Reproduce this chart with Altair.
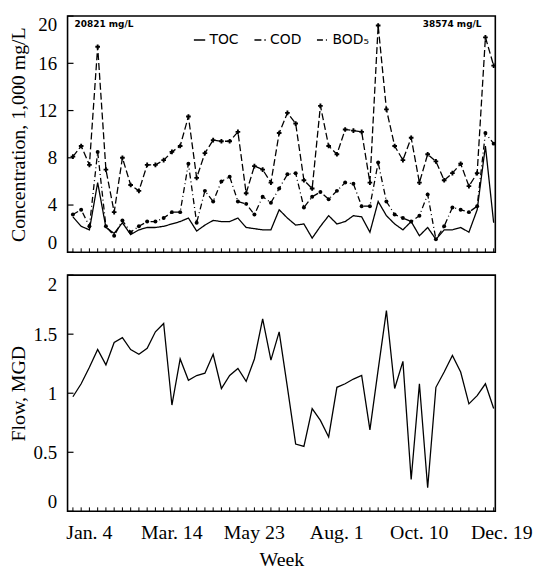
import json
import altair as alt
import pandas as pd

# ---------------- data ----------------
weeks = list(range(1, 53))

toc = [3.0, 2.2, 1.9, 5.9, 2.1, 1.6, 2.5, 1.5, 1.9, 2.1,
       2.1, 2.2, 2.4, 2.6, 2.9, 1.8, 2.3, 2.7, 2.6, 2.6,
       2.9, 2.1, 2.0, 1.9, 1.9, 3.6, 2.9, 2.3, 2.4, 1.2,
       2.2, 3.1, 2.4, 2.6, 3.1, 3.0, 1.7, 4.3, 3.1, 2.4,
       1.9, 2.6, 1.4, 2.1, 1.1, 1.9, 1.9, 2.1, 1.7, 3.6,
       9.0, 2.5]

cod = [8.1, 9.0, 7.4, 17.4, 7.0, 3.4, 8.0, 5.7, 5.2, 7.4,
       7.4, 7.8, 8.5, 9.0, 11.5, 6.3, 8.4, 9.5, 9.4, 9.4,
       10.2, 5.0, 7.3, 7.0, 5.9, 10.1, 11.8, 10.9, 6.1, 5.4,
       12.4, 9.0, 8.3, 10.4, 10.3, 10.2, 5.9, 19.2, 12.1, 9.0,
       7.8, 9.7, 5.9, 8.3, 7.7, 6.1, 6.7, 7.5, 5.6, 6.7,
       18.2, 15.8]

bod5 = [3.2, 3.6, 2.2, 8.5, 2.2, 1.4, 2.7, 1.7, 2.2, 2.6,
        2.6, 2.9, 3.4, 3.4, 7.5, 2.5, 5.2, 4.3, 6.0, 6.4,
        4.3, 4.1, 3.2, 4.7, 4.2, 5.4, 6.6, 6.7, 3.8, 4.7,
        5.1, 4.5, 5.2, 5.9, 5.8, 3.9, 3.9, 7.6, 4.3, 3.2,
        2.9, 2.6, 3.1, 4.9, 1.1, 2.2, 3.8, 3.6, 3.4, 3.9,
        10.1, 9.2]

flow = [0.97, 1.08, 1.22, 1.37, 1.24, 1.43, 1.47, 1.37, 1.33, 1.38,
        1.52, 1.59, 0.90, 1.29, 1.11, 1.15, 1.17, 1.33, 1.04, 1.15,
        1.21, 1.10, 1.29, 1.63, 1.28, 1.52, 1.05, 0.57, 0.55, 0.87,
        0.77, 0.63, 1.05, 1.08, 1.12, 1.15, 0.69, 1.20, 1.70, 1.04,
        1.27, 0.27, 1.08, 0.20, 1.05, 1.18, 1.32, 1.18, 0.91, 0.98,
        1.08, 0.87]

series_names = ["TOC", "COD", "BOD\u2085"]
conc_ticks = [0, 4, 8, 12, 16, 20]
flow_ticks = [0, 0.5, 1, 1.5, 2]
week_tick_values = [1, 11, 21, 31, 41, 51]
week_tick_labels = ["Jan. 4", "Mar. 14", "May 23", "Aug. 1", "Oct. 10", "Dec. 19"]
note_weeks = [1.2, 43.4]
note_values = [19.35, 19.35]
note_texts = ["20821 mg/L", "38574 mg/L"]

# ---------------- tables ----------------
conc_df = pd.DataFrame({
    "week": weeks * 3,
    "value": toc + cod + bod5,
    "series": [series_names[0]] * 52 + [series_names[1]] * 52 + [series_names[2]] * 52,
})
flow_df = pd.DataFrame({"week": weeks, "flow": flow})
wk_df = pd.DataFrame({"week": weeks})
ctick_df = pd.DataFrame({"v": conc_ticks})
ftick_df = pd.DataFrame({"v": flow_ticks})
note_df = pd.DataFrame({"week": note_weeks, "value": note_values, "text": note_texts})

W, H = 431, 238
FONT = "Liberation Serif"
xscale = alt.Scale(domain=[0.35, 52.2], nice=False, zero=False)
cscale = alt.Scale(domain=[0, 20], nice=False)
fscale = alt.Scale(domain=[0, 2], nice=False)

label_map = "[" + ",".join(json.dumps(s) for s in week_tick_labels) + "]"
first = week_tick_values[0]
step = week_tick_values[1] - week_tick_values[0]
label_expr = f"{label_map}[round((datum.value - {first}) / {step})]"

yaxis_common = dict(labelPadding=11, minExtent=30, maxExtent=30, titlePadding=9,
                    labelFlush=True, labelFont=FONT, titleFont=FONT,
                    labelFontSize=19, titleFontSize=20)

# ---------------- top panel ----------------
lines = alt.Chart(conc_df).mark_line(color="black", strokeWidth=1.3).encode(
    x=alt.X("week:Q", scale=xscale, axis=None),
    y=alt.Y("value:Q", scale=cscale,
            axis=alt.Axis(values=conc_ticks, title="Concentration,  1,000 mg/L", **yaxis_common)),
    strokeDash=alt.StrokeDash(
        "series:N",
        scale=alt.Scale(domain=series_names, range=[[1, 0], [7, 3], [6, 3, 1, 3]]),
        legend=alt.Legend(orient="none", legendX=126, legendY=17, direction="horizontal",
                          title=None, symbolType="stroke", symbolStrokeColor="black",
                          symbolStrokeWidth=1.5, symbolSize=130, labelFont="DejaVu Sans",
                          labelFontSize=14, labelColor="black", columnPadding=12,
                          labelOffset=3),
    ),
    detail="series:N",
)
cod_pts = alt.Chart(conc_df).transform_filter(alt.datum.series == series_names[1]).mark_point(
    shape="cross", filled=True, color="black", size=22, opacity=1).encode(
    x=alt.X("week:Q", scale=xscale), y=alt.Y("value:Q", scale=cscale))
bod_pts = alt.Chart(conc_df).transform_filter(alt.datum.series == series_names[2]).mark_circle(
    color="black", size=16, opacity=1).encode(
    x=alt.X("week:Q", scale=xscale), y=alt.Y("value:Q", scale=cscale))
top_wticks = alt.Chart(wk_df).mark_rule(color="black", strokeWidth=1).encode(
    x=alt.X("week:Q", scale=xscale), y=alt.value(H), y2=alt.value(H - 4))
top_lticks = alt.Chart(ctick_df).mark_rule(color="black", strokeWidth=1.2).encode(
    y=alt.Y("v:Q", scale=cscale), x=alt.value(0), x2=alt.value(6))
notes = alt.Chart(note_df).mark_text(font="DejaVu Sans", fontSize=9, fontWeight="bold",
                                     align="left", baseline="middle", color="black").encode(
    x=alt.X("week:Q", scale=xscale), y=alt.Y("value:Q", scale=cscale), text="text:N")

top = alt.layer(lines, cod_pts, bod_pts, top_wticks, top_lticks, notes).properties(width=W, height=H)

# ---------------- bottom panel ----------------
fline = alt.Chart(flow_df).mark_line(color="black", strokeWidth=1.3).encode(
    x=alt.X("week:Q", scale=xscale,
            axis=alt.Axis(values=week_tick_values, labelExpr=label_expr, title="Week",
                          labelPadding=11, labelOffset=16, labelFlush=False, labelOverlap=False,
                          titlePadding=8, labelFont=FONT, titleFont=FONT,
                          labelFontSize=20, titleFontSize=20)),
    y=alt.Y("flow:Q", scale=fscale,
            axis=alt.Axis(values=flow_ticks, format=".1~f", title="Flow,  MGD", **yaxis_common)),
)
bot_wticks = alt.Chart(wk_df).mark_rule(color="black", strokeWidth=1).encode(
    x=alt.X("week:Q", scale=xscale), y=alt.value(H), y2=alt.value(H - 4))
bot_lticks = alt.Chart(ftick_df).mark_rule(color="black", strokeWidth=1.2).encode(
    y=alt.Y("v:Q", scale=fscale), x=alt.value(0), x2=alt.value(6))

bottom = alt.layer(fline, bot_wticks, bot_lticks).properties(width=W, height=H)

chart = alt.vconcat(top, bottom, spacing=19).properties(
    padding={"left": 0, "top": 4, "right": 4, "bottom": 0}
).configure_view(
    stroke="black", strokeWidth=1.6
).configure_axis(
    grid=False, domain=False, ticks=False, tickSize=0,
    labelColor="black", titleColor="black", titleFontWeight="normal"
)

chart.save("out.html", embed_options={"renderer": "svg", "actions": False})
